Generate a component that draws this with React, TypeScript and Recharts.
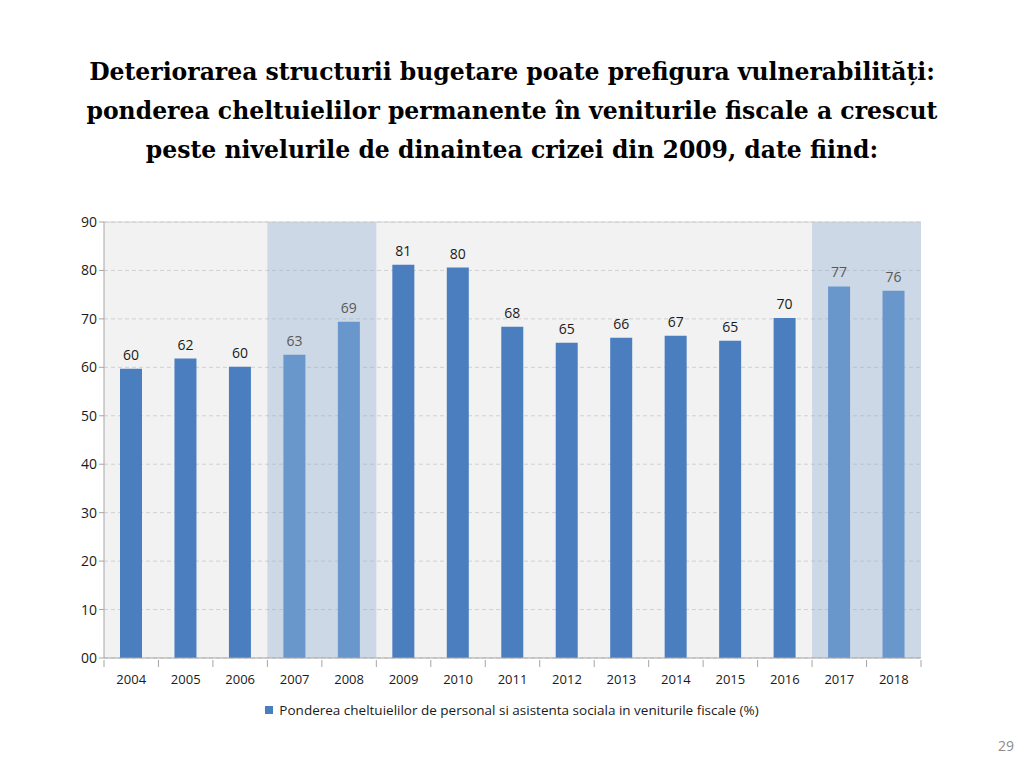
import React from "react";
import {
  BarChart,
  Bar,
  XAxis,
  YAxis,
  CartesianGrid,
  ReferenceArea,
  ReferenceLine,
  LabelList,
  Cell,
} from "recharts";

const years = ["2004", "2005", "2006", "2007", "2008", "2009", "2010", "2011", "2012", "2013", "2014", "2015", "2016", "2017", "2018"];
const shares = [59.7, 61.8, 60.1, 62.6, 69.4, 81.2, 80.6, 68.4, 65.1, 66.1, 66.5, 65.5, 70.2, 76.7, 75.8];
const shareLabels = ["60", "62", "60", "63", "69", "81", "80", "68", "65", "66", "67", "65", "70", "77", "76"];
const highlighted = ["2007", "2008", "2017", "2018"];
const highlightRanges: [string, string][] = [["2007", "2008"], ["2017", "2018"]];
const yTicks = [0, 10, 20, 30, 40, 50, 60, 70, 80, 90];

const seriesName = "Ponderea cheltuielilor de personal si asistenta sociala in veniturile fiscale (%)";

const data = years.map((year, i) => ({ year, value: shares[i], label: shareLabels[i] }));

const CHART_W = 1024;
const CHART_H = 530;
const MARGIN = { top: 22, right: 103, bottom: 42, left: 64 };
const Y_AXIS_W = 40;
const BAND = (CHART_W - MARGIN.left - MARGIN.right - Y_AXIS_W) / years.length;

const FONT = "'Open Sans', 'DejaVu Sans', sans-serif";
const DARK = "#4A7EBF";
const LIGHT = "#6997CC";

const XTick = (props: any) => {
  const { x, y, payload, index } = props;
  const top = y - 6;
  return (
    <g>
      <line x1={x - BAND / 2} x2={x - BAND / 2} y1={top} y2={top + 7} stroke="#A6A6A6" />
      {index === years.length - 1 && (
        <line x1={x + BAND / 2} x2={x + BAND / 2} y1={top} y2={top + 7} stroke="#A6A6A6" />
      )}
      <text x={x} y={top + 24} textAnchor="middle" fontSize={13} fill="#1a1a1a" fontFamily={FONT}>
        {payload.value}
      </text>
    </g>
  );
};

const BarLabel = (props: any) => {
  const { x, y, width, value, index } = props;
  const isHi = highlighted.includes(years[index]);
  return (
    <text
      x={x + width / 2}
      y={y - 9}
      textAnchor="middle"
      fontSize={14}
      fontFamily={FONT}
      fill={isHi ? "#595959" : "#1a1a1a"}
    >
      {value}
    </text>
  );
};

const App: React.FC = () => (
  <div style={{ position: "absolute", left: 0, top: 0, width: 1024, height: 768, background: "#fff" }}>
    <div
      style={{
        position: "absolute",
        top: 53,
        left: 0,
        width: 1024,
        textAlign: "center",
        fontFamily: "'DejaVu Serif', serif",
        fontWeight: "bold",
        fontSize: 23.5,
        lineHeight: "39px",
        color: "#000",
      }}
    >
      Deteriorarea structurii bugetare poate prefigura vulnerabilități:
      <br />
      ponderea cheltuielilor permanente în veniturile fiscale a crescut
      <br />
      peste nivelurile de dinaintea crizei din 2009, date fiind:
    </div>

    <div style={{ position: "absolute", top: 200, left: 0 }}>
      <BarChart width={CHART_W} height={CHART_H} data={data} margin={MARGIN}>
        <CartesianGrid vertical={false} stroke="#D0D0D0" strokeDasharray="4 3" fill="#F2F2F2" />
        {highlightRanges.map(([a, b]) => (
          <ReferenceArea
            key={a}
            x1={a}
            x2={b}
            fill="#88A8D0"
            fillOpacity={0.35}
            stroke="none"
          />
        ))}
        <ReferenceLine y={90} stroke="#D0D0D0" />
        <XAxis
          dataKey="year"
          stroke="#A6A6A6"
          tickLine={false}
          tick={<XTick />}
          interval={0}
          height={30}
        />
        <YAxis
          domain={[0, 90]}
          ticks={yTicks}
          width={Y_AXIS_W}
          stroke="#A6A6A6"
          tickSize={5}
          tick={{ fontSize: 14, fill: "#1a1a1a", fontFamily: FONT }}
          tickFormatter={(v: number) => (v === 0 ? "00" : String(v))}
        />
        <YAxis
          yAxisId="right"
          orientation="right"
          domain={[0, 90]}
          width={0}
          tick={false}
          tickLine={false}
          stroke="#D0D0D0"
        />
        <Bar dataKey="value" barSize={22} isAnimationActive={false}>
          {data.map((d) => (
            <Cell key={d.year} fill={highlighted.includes(d.year) ? LIGHT : DARK} />
          ))}
          <LabelList dataKey="label" content={<BarLabel />} />
        </Bar>
      </BarChart>
    </div>

    <div
      style={{
        position: "absolute",
        top: 701,
        left: 0,
        width: 1024,
        display: "flex",
        justifyContent: "center",
        alignItems: "center",
        fontFamily: FONT,
        fontSize: 13.5,
        color: "#1a1a1a",
      }}
    >
      <span style={{ display: "inline-block", width: 8, height: 8, background: DARK, marginRight: 6 }} />
      {seriesName}
    </div>

    <div
      style={{
        position: "absolute",
        top: 736,
        right: 10,
        fontFamily: FONT,
        fontSize: 14,
        color: "#8c8c8c",
      }}
    >
      29
    </div>
  </div>
);

export default App;
